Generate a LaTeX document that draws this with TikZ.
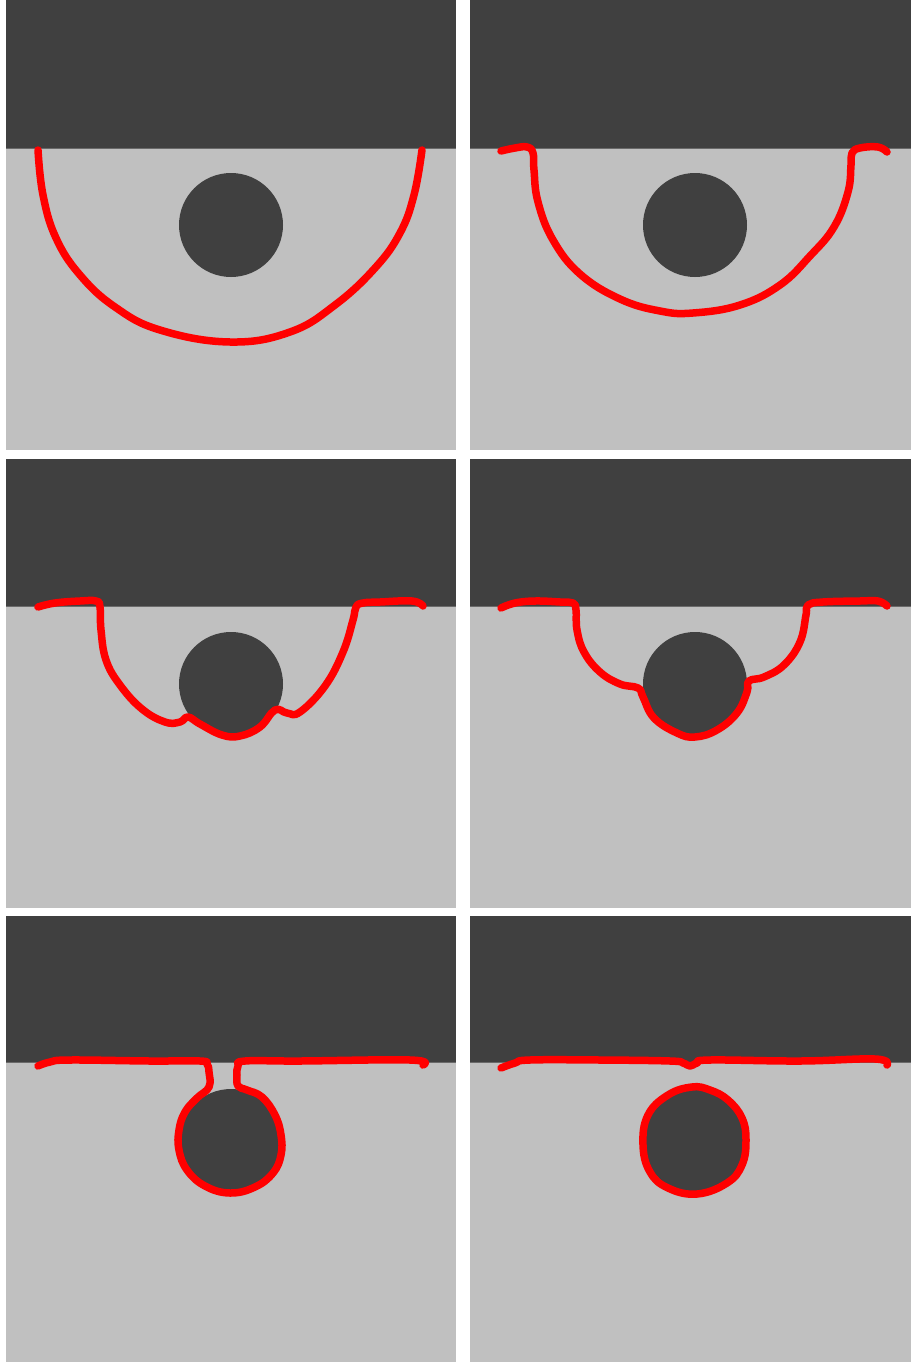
\documentclass[tikz,border=0pt]{standalone}
\definecolor{darkfill}{HTML}{404040}
\definecolor{lightfill}{HTML}{C0C0C0}
\definecolor{edgegray}{HTML}{6A6A6A}
\tikzset{
  contour/.style={draw=red, line width=7.5pt, line cap=round, line join=round},
  lightpanel/.style={fill=lightfill},
  darkband/.style={fill=darkfill},
  blob/.style={fill=darkfill},
  edgeline/.style={draw=edgegray, line width=1pt}
}
\begin{document}
\begin{tikzpicture}[x=1pt,y=-1pt]
\useasboundingbox (0,0) rectangle (911,1362);
\fill[white] (0,0) rectangle (911,1362);
% panels
\foreach \xa/\xb/\cx in {6/456/231,470/911/695}{
  \foreach \ya/\yb/\yc in {0/148/450, 459/606/908, 916/1062/1362}{
    \path[lightpanel] (\xa,\ya) rectangle (\xb,\yc);
    \path[darkband] (\xa,\ya) rectangle (\xb,\yb);
    \draw[edgeline] (\xa,\yb) -- (\xb,\yb);
  }
  \foreach \cy in {225,684,1141}{
    \path[blob] (\cx,\cy) circle (52);
  }
}
% panel 1
\draw[contour] plot[smooth,tension=0.7] coordinates {(38,150) (43,195) (56,238) (80,275) (115,307) (160,330) (230,342) (290,332) (335,305) (375,268) (400,233) (414,195) (422,150)};
% panel 2
\draw[contour] plot[smooth,tension=0.7] coordinates {(501,151) (515,148) (527,147) (533,153) (534,170) (538,202) (553,240) (580,274) (620,299) (660,311) (693,313) (740,305) (780,285) (810,256) (834,227) (848,192) (851,165) (852,153) (860,148) (878,147) (887,152)};
% panel 3
\draw[contour] plot[smooth,tension=0.7] coordinates {(38,607) (55,603) (80,601) (96,601) (100,607) (101,630) (106,660) (120,685) (142,709) (165,722) (180,722) (188,717) (200,724) (222,735) (240,736) (260,727) (275,710) (287,713) (300,712) (325,686) (343,652) (353,620) (356,607) (363,603) (380,602) (412,601) (423,606)};
% panel 4
\draw[contour] plot[smooth,tension=0.7] coordinates {(501,608) (515,603) (535,601) (560,602) (573,603) (576,610) (577,630) (584,652) (600,672) (620,684) (638,688) (643,697) (654,718) (677,733) (695,737) (717,730) (737,713) (747,692) (749,681) (764,677) (784,665) (800,642) (806,615) (808,605) (823,602) (860,601) (878,601) (887,606)};
% panel 5
\draw[contour] plot[smooth,tension=0.7] coordinates {(38,1066) (50,1062) (70,1060) (150,1061) (200,1061) (207,1064) (209,1072) (209,1087) (197,1098) (185,1112) (179,1130) (179,1150) (187,1170) (205,1186) (230,1193) (255,1187) (273,1173) (281,1155) (281,1135) (275,1115) (262,1097) (247,1090) (238,1086) (237,1075) (238,1066) (245,1061) (300,1061) (410,1060) (423,1065)};
% panel 6
\draw[contour] plot[smooth,tension=0.7] coordinates {(501,1068) (515,1063) (530,1060) (600,1060) (670,1061) (683,1063) (690,1066) (697,1063) (710,1060) (800,1061) (875,1059) (887,1065)};
\draw[contour] plot[smooth cycle,tension=0.7] coordinates {(692,1087) (710,1090) (728,1100) (742,1118) (746,1140) (742,1165) (727,1183) (697,1194) (668,1188) (650,1172) (643,1145) (648,1115) (668,1095)};
\end{tikzpicture}
\end{document}
